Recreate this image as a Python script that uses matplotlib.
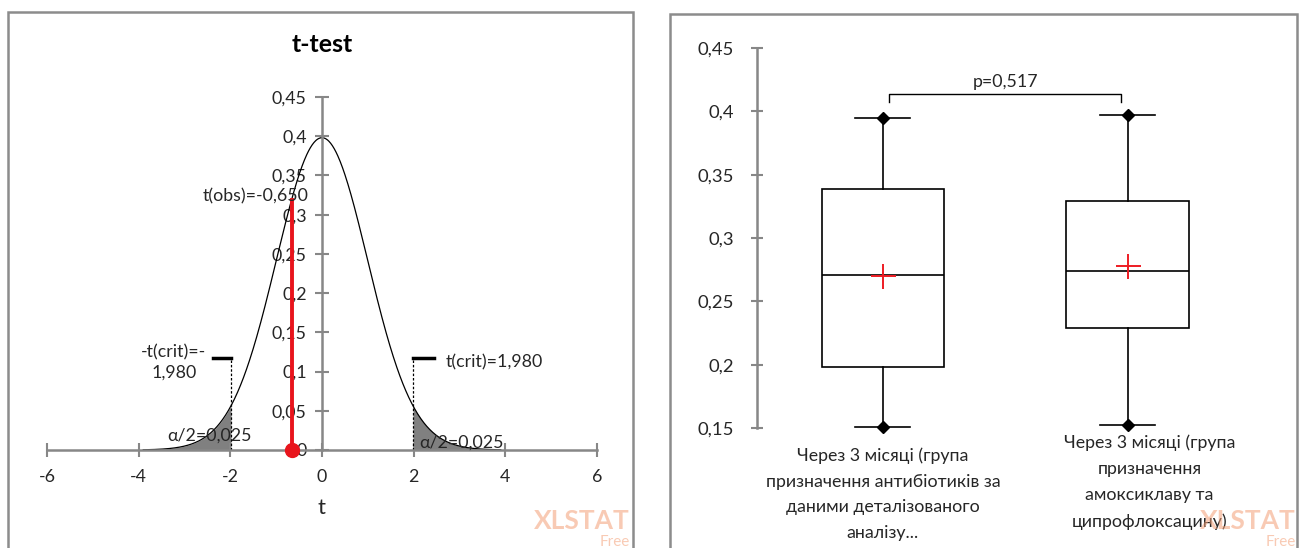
import numpy as np
import matplotlib.pyplot as plt
from matplotlib.patches import Rectangle
from math import lgamma, pi

plt.rcParams['font.family'] = ['Lato', 'DejaVu Sans']

# ---- left chart: t-test ----
df_t = 120            # degrees of freedom (t(crit)=1,980)
t_obs = -0.650
t_crit = 1.980
t_lo, t_hi = -3.9, 3.9
x_ticks = [-6, -4, -2, 0, 2, 4, 6]
y_ticks_left = [0, 0.05, 0.1, 0.15, 0.2, 0.25, 0.3, 0.35, 0.4, 0.45]
y_labels_left = ['0', '0,05', '0,1', '0,15', '0,2', '0,25', '0,3', '0,35', '0,4', '0,45']
crit_height = 0.117
obs_height = 0.319

# ---- right chart: box plots ----
groups = ['Через 3 місяці (група\nпризначення антибіотиків за\nданими деталізованого\nаналізу...',
          'Через 3 місяці (група\nпризначення\nамоксиклаву та\nципрофлоксацину)']
whis_lo = [0.151, 0.152]
q1 = [0.198, 0.229]
med = [0.271, 0.274]
q3 = [0.339, 0.329]
whis_hi = [0.395, 0.397]
means = [0.270, 0.278]
p_text = 'p=0,517'
y_ticks_right = [0.15, 0.2, 0.25, 0.3, 0.35, 0.4, 0.45]
y_labels_right = ['0,15', '0,2', '0,25', '0,3', '0,35', '0,4', '0,45']

W, H = 1302, 548
AX_GREY = '#878787'
TXT = '#262626'
FS = 12.8


def px_rect(x0, y0, x1, y1):
    return [x0 / W, 1 - y1 / H, (x1 - x0) / W, (y1 - y0) / H]


def t_pdf(t, nu):
    c = np.exp(lgamma((nu + 1) / 2) - lgamma(nu / 2)) / np.sqrt(nu * pi)
    return c * (1 + t ** 2 / nu) ** (-(nu + 1) / 2)


fig = plt.figure(figsize=(W / 100, H / 100), dpi=100)

# panel frames
for x0, y0, x1 in [(8, 12, 633), (670, 14, 1297)]:
    fig.patches.append(Rectangle((x0 / W, -0.1), (x1 - x0) / W, 1.1 - y0 / H,
                                 transform=fig.transFigure, fill=False,
                                 edgecolor='#8c8c8c', linewidth=1.8))

# ---------- left ----------
ax = fig.add_axes(px_rect(47, 97, 597, 450))
tt = np.linspace(t_lo, t_hi, 600)
dens = t_pdf(tt, df_t)
ax.plot(tt, dens, color='black', lw=0.9)
for a, b in [(t_lo, -t_crit), (t_crit, t_hi)]:
    m = (tt >= a) & (tt <= b)
    ax.fill_between(tt[m], 0, dens[m], color='#808080', lw=0)
for s in [-1, 1]:
    ax.plot([s * t_crit, s * t_crit], [0, crit_height], color='black', lw=0.9, ls=(0, (2, 1.5)))
ax.plot([-t_crit - 0.4, -t_crit], [crit_height, crit_height], color='black', lw=2.5)
ax.plot([t_crit, t_crit + 0.47], [crit_height, crit_height], color='black', lw=2.5)
ax.plot([t_obs, t_obs], [0, obs_height], color='#e8141c', lw=2.8)
ax.plot([t_obs], [0], 'o', color='#e8141c', ms=10, clip_on=False, zorder=5)

ax.text(-1.44, 0.3227, 't(obs)=-0,650', ha='center', va='center', fontsize=FS, color=TXT)
ax.text(-3.23, 0.112, '-t(crit)=-\n1,980', ha='center', va='center', fontsize=FS,
        color=TXT, linespacing=1.3)
ax.text(2.69, 0.112, 't(crit)=1,980', ha='left', va='center', fontsize=FS, color=TXT)
ax.text(-2.45, 0.0179, 'α/2=0,025', ha='center', va='center', fontsize=FS, color=TXT)
ax.text(3.04, 0.009, 'α/2=0,025', ha='center', va='center', fontsize=FS, color=TXT)

ax.set_xlim(-6, 6)
ax.set_ylim(0, 0.45)
ax.set_xticks(x_ticks)
ax.set_xticklabels([str(v) for v in x_ticks])
ax.set_yticks(y_ticks_left)
ax.set_yticklabels(y_labels_left)
ax.spines['left'].set_position(('data', 0))
for s in ['top', 'right']:
    ax.spines[s].set_visible(False)
for s in ['left', 'bottom']:
    ax.spines[s].set_color(AX_GREY)
    ax.spines[s].set_linewidth(1.8)
ax.tick_params(direction='inout', length=10, width=1.5, color=AX_GREY,
               labelsize=FS, labelcolor=TXT)
ax.tick_params(axis='x', pad=9)
ax.tick_params(axis='y', pad=6)
ax.patch.set_alpha(0)
fig.text(322 / W, 1 - 508 / H, 't', ha='center', va='center', fontsize=16, color=TXT)
fig.text(322 / W, 1 - 45 / H, 't-test', ha='center', va='center', fontsize=18,
         fontweight='bold', color='black')

# ---------- right ----------
ax2 = fig.add_axes(px_rect(757, 48, 1250, 428))
stats = [dict(med=med[i], q1=q1[i], q3=q3[i], whislo=whis_lo[i], whishi=whis_hi[i],
              mean=means[i]) for i in range(len(groups))]
line = dict(color='black', linewidth=1.2)
ax2.bxp(stats, positions=[1, 2], widths=0.5, capwidths=0.225, showmeans=True,
        showfliers=False, patch_artist=True,
        boxprops=dict(facecolor='white', edgecolor='black', linewidth=1.2),
        medianprops=line, whiskerprops=line, capprops=line,
        meanprops=dict(marker='+', markeredgecolor='#ee1c24', markersize=18,
                       markeredgewidth=1.4))
ax2.plot([1, 2], whis_hi, 'D', color='black', ms=6.5, clip_on=False, zorder=5)
ax2.plot([1, 2], whis_lo, 'D', color='black', ms=6.5, clip_on=False, zorder=5)
ax2.plot([1.025, 1.025, 1.975, 1.975], [0.407, 0.414, 0.414, 0.407], color='black', lw=1)
ax2.text(1.5, 0.4165, p_text, ha='center', va='bottom', fontsize=FS, color=TXT)

ax2.text(1.0, 0.1345, groups[0], ha='center', va='top', fontsize=FS, color=TXT,
         linespacing=1.74)
ax2.text(2.09, 0.1448, groups[1], ha='center', va='top', fontsize=FS, color=TXT,
         linespacing=1.76)

ax2.set_xlim(0.486, 2.5)
ax2.set_ylim(0.15, 0.45)
ax2.set_xticks([])
ax2.set_yticks(y_ticks_right)
ax2.set_yticklabels(y_labels_right)
for s in ['top', 'right', 'bottom']:
    ax2.spines[s].set_visible(False)
ax2.spines['left'].set_color(AX_GREY)
ax2.spines['left'].set_linewidth(1.8)
ax2.tick_params(axis='y', direction='inout', length=9, width=1.5, color=AX_GREY,
                labelsize=FS + 0.5, labelcolor=TXT, pad=12)
ax2.patch.set_alpha(0)

# watermarks
for xr in [630, 1296]:
    fig.text(xr / W, 1 - 521 / H, 'XLSTAT', ha='right', va='center', fontsize=19,
             fontweight='bold', color='#f4a077', alpha=0.55)
    fig.text(xr / W, 1 - 542 / H, 'Free', ha='right', va='center', fontsize=11,
             color='#f4a077', alpha=0.55)

fig.savefig('out.png', dpi=100)
